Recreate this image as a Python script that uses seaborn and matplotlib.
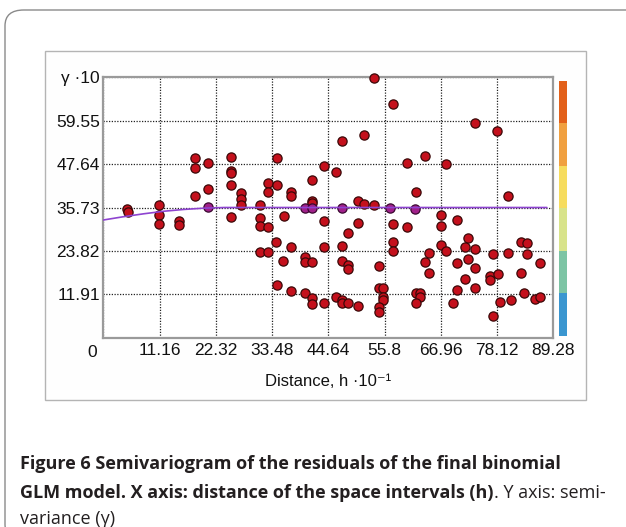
import matplotlib
matplotlib.use("Agg")
import matplotlib.pyplot as plt
import numpy as np
import seaborn as sns
from matplotlib.colors import ListedColormap
from matplotlib.patches import FancyBboxPatch, Rectangle

# semivariance cloud: distance (h*10^-1) and semivariance (gamma*10)
lag_h = [4.64, 4.96, 11.11, 11.11, 11.11, 15.02, 15.02, 18.19, 18.19, 18.19,
         20.83, 20.83, 25.28, 25.28, 25.28, 25.28, 25.28, 27.32, 27.32, 27.32,
         31.09, 31.09, 31.09, 32.62, 31.09, 32.62, 32.62, 32.62, 34.37, 34.37,
         35.81, 34.33, 37.24, 37.24, 37.24, 35.75, 34.37, 37.24, 39.92, 39.92,
         41.41, 39.92, 41.41, 41.41, 43.79, 43.79, 43.79, 43.79, 41.41, 41.41,
         41.41, 46.13, 47.30, 46.17, 47.30, 47.30, 48.45, 50.50, 47.30, 47.30,
         48.45, 48.45, 48.45, 50.50, 50.50, 51.73, 53.77, 51.73, 53.77, 57.54,
         57.54, 57.54, 57.54, 54.70, 54.70, 55.56, 55.56, 55.56, 54.70, 54.70,
         60.22, 60.22, 62.04, 63.83, 63.83, 64.68, 64.68, 62.04, 62.84, 62.84,
         62.04, 67.06, 67.06, 67.06, 67.94, 67.94, 70.24, 70.24, 70.24, 69.39,
         72.30, 72.30, 71.77, 71.77, 73.81, 73.81, 73.81, 73.81, 78.17, 77.26,
         76.73, 76.73, 78.25, 77.26, 78.71, 80.24, 80.24, 80.89, 82.88, 84.13,
         84.13, 82.88, 83.47, 85.65, 86.65, 86.65]
gamma = [35.24, 34.58, 36.42, 33.67, 31.12, 32.11, 30.93, 49.23, 46.65, 38.97,
         47.86, 40.89, 49.64, 45.69, 45.20, 41.77, 33.21, 39.63, 38.14, 36.28,
         36.42, 32.77, 30.74, 30.30, 23.44, 23.44, 42.59, 40.12, 49.18, 41.77,
         33.53, 26.26, 39.85, 38.89, 24.97, 21.05, 14.46, 12.82, 22.15, 20.91,
         20.91, 12.27, 10.81, 9.25, 9.52, 24.97, 32.03, 47.20, 43.28, 37.60,
         36.88, 45.42, 54.03, 11.25, 10.35, 9.44, 9.60, 8.75, 25.16, 21.10,
         19.95, 18.91, 28.73, 31.61, 37.65, 36.61, 36.55, 55.63, 71.19, 64.21,
         31.12, 26.26, 23.79, 19.68, 13.64, 13.64, 11.25, 10.35, 8.29, 7.14,
         47.86, 30.30, 40.07, 49.95, 20.86, 23.33, 17.67, 12.18, 12.40, 11.17,
         9.52, 33.67, 30.74, 25.44, 23.79, 47.58, 32.30, 20.58, 13.09, 9.60,
         27.44, 21.51, 24.97, 16.11, 58.84, 24.26, 19.04, 13.72, 56.81, 22.89,
         16.93, 15.83, 17.40, 5.95, 9.88, 38.94, 23.33, 10.35, 26.34, 25.91,
         22.89, 17.67, 12.35, 10.62, 11.25, 20.58]

# points lying on the sill line (drawn tinted by the line)
sill_h = [20.83, 39.92, 41.35, 47.30, 56.81, 61.94]
sill_gamma = [36.00, 35.67, 35.67, 35.67, 35.67, 35.32]

# fitted model curve
model_h = [0, 4, 8, 12, 16, 20, 24, 88]
model_gamma = [32.3, 33.2, 34.0, 34.7, 35.2, 35.55, 35.73, 35.73]

x_ticks = [0, 11.16, 22.32, 33.48, 44.64, 55.8, 66.96, 78.12, 89.28]
x_tick_labels = ["", "11.16", "22.32", "33.48", "44.64", "55.8", "66.96", "78.12", "89.28"]
y_ticks = [0, 11.91, 23.82, 35.73, 47.64, 59.55, 71.46]
y_tick_labels = ["", "11.91", "23.82", "35.73", "47.64", "59.55", "γ ·10"]
scale_colors = ["#3a96d0", "#7cc4a4", "#d8e38a", "#f6dc5e", "#f0a040", "#e2601a"]

sns.set_style("white")
plt.rcParams["font.family"] = ["Liberation Sans", "DejaVu Sans"]

fig = plt.figure(figsize=(6.26, 5.27), dpi=100)
W, H = 626, 527

# card frame and inner panel, kept behind the axes
fig.patches.append(FancyBboxPatch((5 / W, 1 - 540 / H), 660 / W, 530 / H,
                                  boxstyle="round,pad=0,rounding_size=0.03",
                                  transform=fig.transFigure, fill=False,
                                  edgecolor="#8a8a8a", linewidth=1.0, zorder=-2))
fig.patches.append(Rectangle((45 / W, 1 - 400 / H), 541 / W, 349 / H,
                             transform=fig.transFigure, facecolor="#fefefe",
                             edgecolor="#b4b4b4", linewidth=1.0, zorder=-1))

ax = fig.add_axes([103.3 / W, 1 - 337.7 / H, 450 / W, 260.4 / H])
ax.set_facecolor("white")

sns.lineplot(x=model_h, y=model_gamma, color="#8e44d0", linewidth=1.2,
             estimator=None, sort=False, ax=ax, zorder=4)
sns.scatterplot(x=lag_h, y=gamma, color="#c4101c", edgecolor="#3a0808",
                linewidth=0.9, s=44, ax=ax, zorder=3, clip_on=False)
sns.scatterplot(x=sill_h, y=sill_gamma, color="#a0208a", edgecolor="#3a0830",
                linewidth=0.9, s=44, ax=ax, zorder=3)

ax.set_xlim(0, 89.28)
ax.set_ylim(0, 71.46)
ax.set_xticks(x_ticks)
ax.set_xticklabels(x_tick_labels)
ax.set_yticks(y_ticks)
ax.set_yticklabels(y_tick_labels)
ax.tick_params(axis="both", length=0, labelsize=12.5, colors="#111111")
ax.tick_params(axis="x", pad=4)
ax.tick_params(axis="y", pad=2.5)
ax.grid(True, color="#222222", linestyle=(0, (1, 1.2)), linewidth=0.9)
for side in ax.spines.values():
    side.set_color("#9a9a9a")
    side.set_linewidth(1.6)
ax.annotate("0", xy=(0, 0), xycoords="axes fraction", xytext=(-8, -10.5),
            textcoords="offset points", ha="center", va="center",
            fontsize=12.5, color="#111111")
ax.set_xlabel("Distance, h ·10⁻¹", fontsize=12, color="#111111", labelpad=11)
ax.set_ylabel("")

# colour scale strip
cax = fig.add_axes([559 / W, 1 - 336 / H, 8 / W, 255 / H])
cax.imshow(np.arange(len(scale_colors))[::-1].reshape(-1, 1),
           cmap=ListedColormap(scale_colors), aspect="auto")
cax.set_axis_off()

# caption
cap = dict(fontsize=13, color="#231f20", family=["Open Sans", "DejaVu Sans"])
fig.text(20 / W, 1 - 469 / H, "Figure 6 Semivariogram of the residuals of the final binomial",
         fontweight="bold", va="baseline", **cap)
bold2 = fig.text(20 / W, 1 - 498 / H, "GLM model. X axis: distance of the space intervals (h)",
                 fontweight="bold", va="baseline", **cap)
ax.annotate(". Y axis: semi-", xy=(1, 0), xycoords=bold2, ha="left", va="bottom",
            annotation_clip=False, **cap)
fig.text(20 / W, 1 - 524 / H, "variance (γ)", va="baseline", **cap)

fig.savefig("out.png", dpi=100)
